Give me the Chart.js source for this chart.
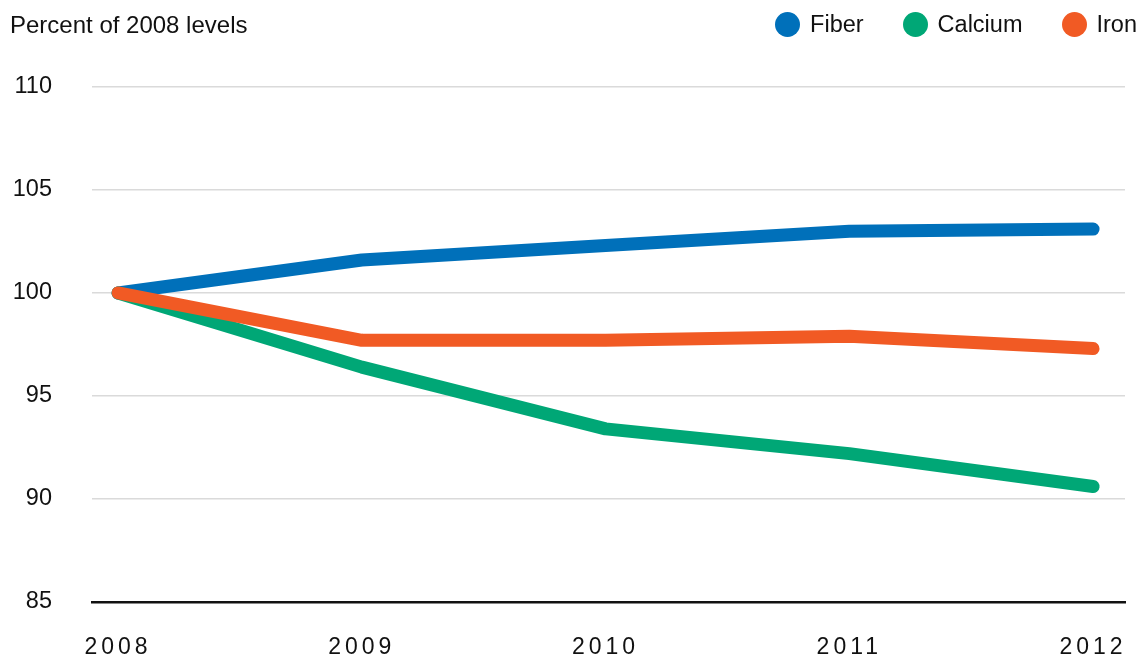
<!DOCTYPE html>
<html>
<head>
<meta charset="utf-8">
<script src="https://cdn.jsdelivr.net/npm/chart.js@4/dist/chart.umd.min.js"></script>
<style>
    html, body { margin: 0; padding: 0; background: #fff; }
    #wrap { position: relative; width: 1140px; height: 656px; font-family: "Liberation Sans", Arial, sans-serif; color: #111; }
    #title { position: absolute; left: 10px; top: 11px; font-size: 24px; }
    #legend { position: absolute; right: 3px; top: 11px; display: flex; font-size: 23.5px; }
    #legend .item { display: flex; align-items: center; margin-left: 39px; }
    #legend .dot { width: 25px; height: 25px; border-radius: 50%; margin-right: 10px; }
    canvas { position: absolute; left: 0; top: 0; }
</style>
</head>
<body>
<div id="wrap">
    <canvas id="chart" width="1140" height="656"></canvas>
    <div id="title">Percent of 2008 levels</div>
    <div id="legend"></div>
</div>
<script>
const years = [2008, 2009, 2010, 2011, 2012];
const fiber = [100, 101.6, 102.3, 103.0, 103.1];
const calcium = [100, 96.4, 93.4, 92.2, 90.6];
const iron = [100, 97.7, 97.7, 97.9, 97.3];
const yTicks = [85, 90, 95, 100, 105, 110];

const seriesNames = ['Fiber', 'Calcium', 'Iron'];
const seriesColors = ['#0070ba', '#00a776', '#f15a24'];
const seriesValues = [fiber, calcium, iron];

const datasets = seriesNames.map((name, i) => ({
    label: name,
    data: years.map((yr, j) => ({ x: yr, y: seriesValues[i][j] })),
    borderColor: seriesColors[i],
    backgroundColor: seriesColors[i],
    borderWidth: 13,
    borderCapStyle: 'round',
    borderJoinStyle: 'round',
    pointRadius: 0,
    tension: 0,
    // iron sits on top where the lines meet
    order: 3 - i,
}));

const ctx = document.getElementById('chart').getContext('2d');
const chart = new Chart(ctx, {
    type: 'line',
    data: { datasets: datasets },
    options: {
        responsive: false,
        animation: false,
        layout: {
            padding: { top: 87, right: 15, left: 0, bottom: 0 }
        },
        scales: {
            x: {
                type: 'linear',
                min: 2007.893,
                max: 2012.131,
                afterBuildTicks: (scale) => {
                    scale.ticks = years.map((v) => ({ value: v }));
                },
                afterFit: (scale) => {
                    scale.height = 52;
                    // labels fit inside the plot width, no extra side padding
                    scale.paddingLeft = 0;
                    scale.paddingRight = 0;
                },
                ticks: {
                    callback: (v) => String(v),
                    color: '#111',
                    padding: 32,
                    maxRotation: 0,
                    font: { family: 'Liberation Sans', size: 23 }
                },
                grid: { display: false, drawTicks: false },
                border: { display: true, color: '#111', width: 2.5 }
            },
            y: {
                min: 85,
                max: 110,
                afterBuildTicks: (scale) => {
                    scale.ticks = yTicks.map((v) => ({ value: v }));
                },
                afterFit: (scale) => {
                    scale.width = 92;
                },
                ticks: {
                    color: '#111',
                    padding: 40,
                    font: { family: 'Liberation Sans', size: 23.5 }
                },
                grid: {
                    drawTicks: false,
                    color: (c) => c.tick && c.tick.value === 85 ? 'rgba(0,0,0,0)' : '#dadada',
                    lineWidth: 1.5
                },
                border: { display: false }
            }
        },
        plugins: {
            legend: { display: false },
            tooltip: { enabled: false }
        }
    },
    plugins: [{
        id: 'spacedYears',
        beforeDraw: (c) => {
            // wider letter spacing for the year labels only
            const xs = c.scales.x;
            if (!xs._spaced) {
                const orig = xs.drawLabels.bind(xs);
                xs.drawLabels = function (area) {
                    c.ctx.save();
                    c.ctx.letterSpacing = '4px';
                    orig(area);
                    c.ctx.restore();
                };
                xs._spaced = true;
            }
        }
    }]
});

// html legend built from the datasets, in series order
const legendEl = document.getElementById('legend');
seriesNames.forEach((name, i) => {
    const item = document.createElement('div');
    item.className = 'item';
    const dot = document.createElement('span');
    dot.className = 'dot';
    dot.style.background = chart.data.datasets[i].borderColor;
    const label = document.createElement('span');
    label.textContent = name;
    item.appendChild(dot);
    item.appendChild(label);
    legendEl.appendChild(item);
});
</script>
</body>
</html>
